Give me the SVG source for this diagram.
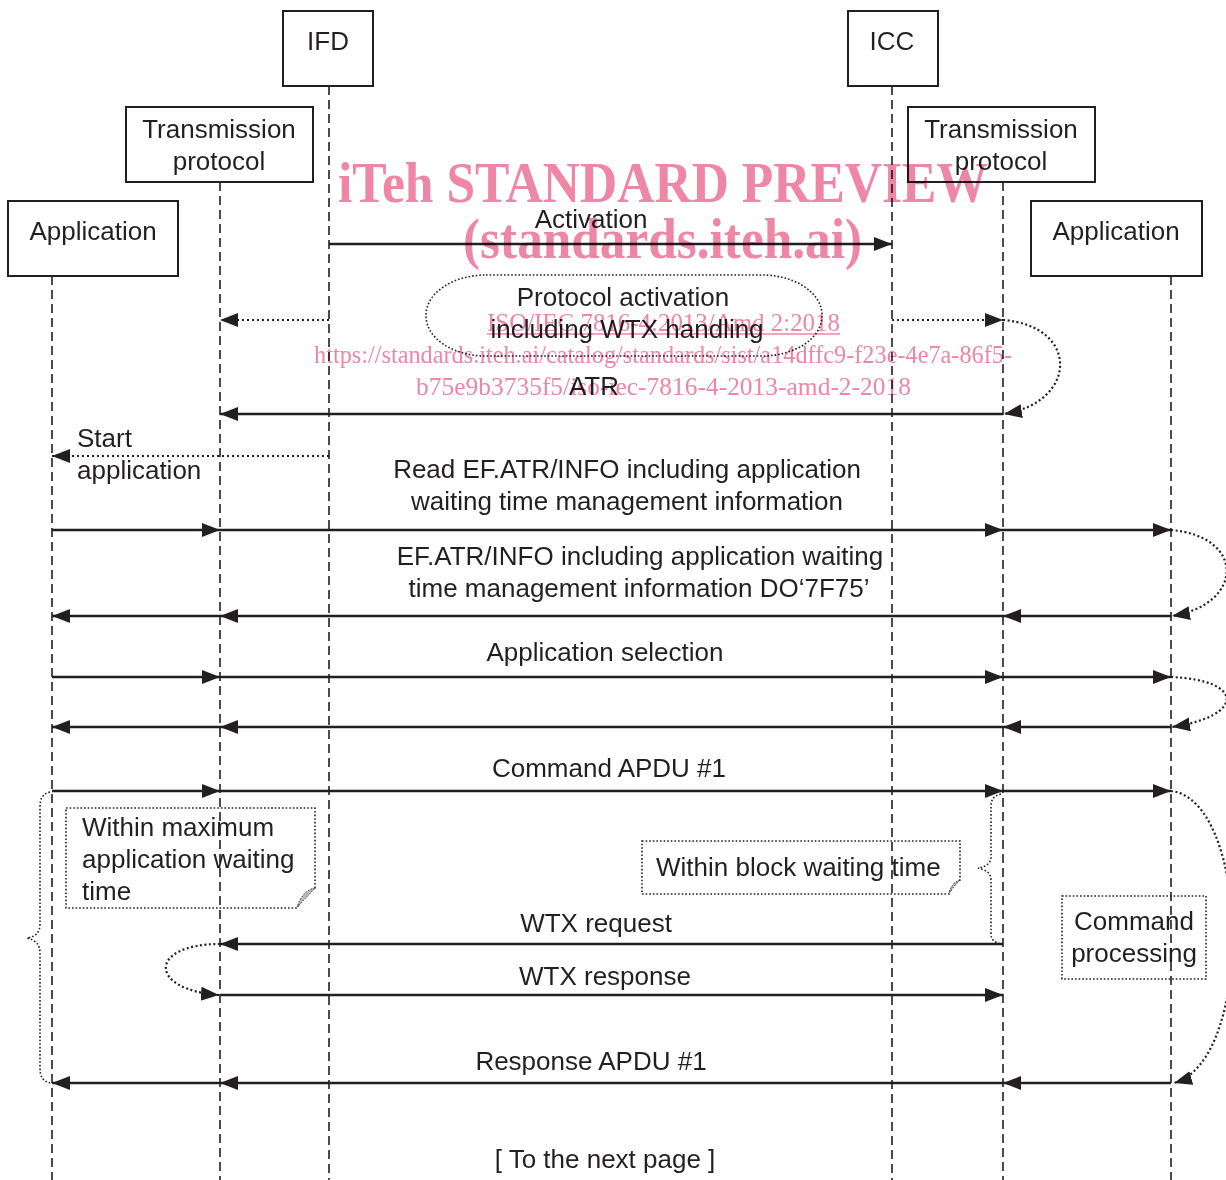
<svg xmlns="http://www.w3.org/2000/svg" width="1226" height="1180" viewBox="0 0 1226 1180">
<style>
text{font-family:"Liberation Sans",Arial,sans-serif;font-size:26px;fill:#231f20}
.c{text-anchor:middle}
.box{fill:none;stroke:#231f20;stroke-width:2}
.life{stroke:#231f20;stroke-width:1.6;stroke-dasharray:9 5;fill:none}
.msg{stroke:#231f20;stroke-width:2.4;fill:none;marker-end:url(#ah)}
.dmsg{stroke:#231f20;stroke-width:2.2;fill:none;stroke-dasharray:2 3;marker-end:url(#ah)}
.dcurve{stroke:#231f20;stroke-width:2.2;fill:none;stroke-dasharray:2 2.5;marker-end:url(#ah)}
.dot{stroke:#231f20;stroke-width:1.6;fill:none;stroke-dasharray:1.6 2}
text.wm{font-family:"Liberation Serif","Times New Roman",serif;fill:#ee86a6}
text.wmb{font-size:56px;font-weight:bold}
text.wms{font-size:25px}
</style>
<defs>
<marker id="ah" markerUnits="userSpaceOnUse" markerWidth="19" markerHeight="15" refX="18" refY="7" orient="auto">
<path d="M0,0 L18,7 L0,14 Z" fill="#231f20"/>
</marker>
</defs>

<g id="lifelines">
<line class="life" x1="329" y1="86" x2="329" y2="1180"/>
<line class="life" x1="892" y1="86" x2="892" y2="1180"/>
<line class="life" x1="220" y1="182" x2="220" y2="1180"/>
<line class="life" x1="1003" y1="182" x2="1003" y2="1180"/>
<line class="life" x1="52" y1="276" x2="52" y2="1180"/>
<line class="life" x1="1171" y1="276" x2="1171" y2="1180"/>
</g>

<g id="node-ifd"><rect class="box" x="283" y="11" width="90" height="75"/><text class="c" x="328" y="50">IFD</text></g>
<g id="node-icc"><rect class="box" x="848" y="11" width="90" height="75"/><text class="c" x="892" y="50">ICC</text></g>
<g id="node-tp-left"><rect class="box" x="126" y="107" width="187" height="75"/><text class="c" x="219" y="138">Transmission</text><text class="c" x="219" y="170">protocol</text></g>
<g id="node-tp-right"><rect class="box" x="908" y="107" width="187" height="75"/><text class="c" x="1001" y="138">Transmission</text><text class="c" x="1001" y="170">protocol</text></g>
<g id="node-app-left"><rect class="box" x="8" y="201" width="170" height="75"/><text class="c" x="93" y="240">Application</text></g>
<g id="node-app-right"><rect class="box" x="1031" y="201" width="171" height="75"/><text class="c" x="1116" y="240">Application</text></g>

<g id="node-protocol-activation">
<rect class="dot" x="426" y="275" width="396" height="81" rx="60" ry="40"/>
<text class="c" x="623" y="306">Protocol activation</text>
<text class="c" x="627" y="338">including WTX handling</text>
</g>

<g id="node-note-max">
<path class="dot" d="M66,808 H315 V888 Q306,893 297,908 H66 Z"/>
<path d="M315,888 Q303,890 297,907 Q306,898 315,888 Z" fill="#bbb" stroke="#231f20" stroke-width="1" stroke-dasharray="1.5 1.5"/>
<text x="82" y="836">Within maximum</text>
<text x="82" y="868">application waiting</text>
<text x="82" y="900">time</text>
</g>

<g id="node-note-block">
<path class="dot" d="M642,841 H960 V880 Q953,884 949,894 H642 Z"/>
<path d="M960,880 Q952,882 949,893 Q954,886 960,880 Z" fill="#bbb" stroke="#231f20" stroke-width="1" stroke-dasharray="1.5 1.5"/>
<text x="656" y="876">Within block waiting time</text>
</g>

<g id="node-command-processing">
<rect class="dot" x="1062" y="896" width="144" height="83"/>
<text class="c" x="1134" y="930">Command</text>
<text class="c" x="1134" y="962">processing</text>
</g>

<g id="connectors">
<line class="msg" x1="329" y1="244" x2="892" y2="244"/>
<text class="c" x="591" y="228">Activation</text>

<line class="dmsg" x1="329" y1="320" x2="220" y2="320"/>
<line class="dmsg" x1="892" y1="320" x2="1003" y2="320"/>
<path class="dcurve" d="M1003,320 C1080,326 1078,402 1004,414"/>

<line class="msg" x1="1003" y1="414" x2="220" y2="414"/>
<text class="c" x="594" y="395">ATR</text>

<line class="dmsg" x1="329" y1="456" x2="52" y2="456"/>
<text x="77" y="447">Start</text>
<text x="77" y="479">application</text>

<line class="msg" x1="52" y1="530" x2="220" y2="530"/>
<line class="msg" x1="220" y1="530" x2="1003" y2="530"/>
<line class="msg" x1="1003" y1="530" x2="1171" y2="530"/>
<text class="c" x="627" y="478">Read EF.ATR/INFO including application</text>
<text class="c" x="627" y="510">waiting time management information</text>
<path class="dcurve" d="M1171,530 C1245,536 1245,604 1172,616"/>

<line class="msg" x1="1171" y1="616" x2="1003" y2="616"/>
<line class="msg" x1="1003" y1="616" x2="220" y2="616"/>
<line class="msg" x1="220" y1="616" x2="52" y2="616"/>
<text class="c" x="640" y="565">EF.ATR/INFO including application waiting</text>
<text class="c" x="639" y="597">time management information DO‘7F75’</text>

<line class="msg" x1="52" y1="677" x2="220" y2="677"/>
<line class="msg" x1="220" y1="677" x2="1003" y2="677"/>
<line class="msg" x1="1003" y1="677" x2="1171" y2="677"/>
<text class="c" x="605" y="661">Application selection</text>
<path class="dcurve" d="M1171,677 C1245,680 1245,716 1172,727"/>

<line class="msg" x1="1171" y1="727" x2="1003" y2="727"/>
<line class="msg" x1="1003" y1="727" x2="220" y2="727"/>
<line class="msg" x1="220" y1="727" x2="52" y2="727"/>

<line class="msg" x1="52" y1="791" x2="220" y2="791"/>
<line class="msg" x1="220" y1="791" x2="1003" y2="791"/>
<line class="msg" x1="1003" y1="791" x2="1171" y2="791"/>
<text class="c" x="609" y="777">Command APDU #1</text>
<path class="dcurve" d="M1171,791 C1250,800 1255,1060 1174,1083"/>

<path class="dot" d="M50,792 C42,794 40,799 40,808 L40,924 C40,933 35,937 27,938 C35,940 40,944 40,953 L40,1068 C40,1077 43,1081 50,1083"/>
<path class="dot" d="M1001,794 C993,796 991,800 991,807 L991,857 C991,863 986,867 978,868 C986,870 991,873 991,880 L991,934 C991,940 995,943 1002,944"/>

<line class="msg" x1="1003" y1="944" x2="220" y2="944"/>
<text class="c" x="596" y="932">WTX request</text>
<path class="dcurve" d="M220,944 C148,944 148,990 219,995"/>
<line class="msg" x1="220" y1="995" x2="1003" y2="995"/>
<text class="c" x="605" y="985">WTX response</text>

<line class="msg" x1="1171" y1="1083" x2="1003" y2="1083"/>
<line class="msg" x1="1003" y1="1083" x2="220" y2="1083"/>
<line class="msg" x1="220" y1="1083" x2="52" y2="1083"/>
<text class="c" x="591" y="1070">Response APDU #1</text>

<text class="c" x="605" y="1168">[ To the next page ]</text>
</g>

<g id="watermark" style="mix-blend-mode:multiply">
<text class="wm wmb" x="338" y="202" textLength="650" lengthAdjust="spacingAndGlyphs">iTeh STANDARD PREVIEW</text>
<text class="wm wmb" x="463" y="258" textLength="399" lengthAdjust="spacingAndGlyphs">(standards.iteh.ai)</text>
<text class="wm wms" x="487" y="331" textLength="353" lengthAdjust="spacingAndGlyphs">ISO/IEC 7816-4:2013/Amd 2:2018</text>
<line x1="487" y1="334" x2="840" y2="334" stroke="#ee86a6" stroke-width="1.5"/>
<text class="wm wms" x="314" y="363" textLength="698" lengthAdjust="spacingAndGlyphs">https://standards.iteh.ai/catalog/standards/sist/a14dffc9-f23e-4e7a-86f5-</text>
<text class="wm wms" x="416" y="395" textLength="495" lengthAdjust="spacingAndGlyphs">b75e9b3735f5/iso-iec-7816-4-2013-amd-2-2018</text>
</g>
</svg>
